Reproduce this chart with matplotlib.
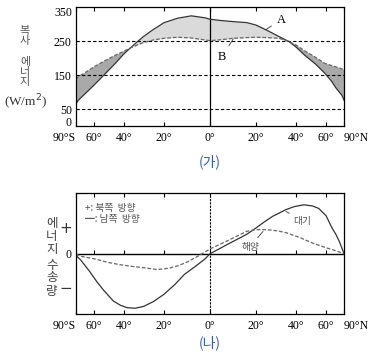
import numpy as np
import matplotlib
matplotlib.use('Agg')
import matplotlib.pyplot as plt

plt.rcParams['font.family'] = ['Liberation Serif', 'Noto Sans CJK KR', 'DejaVu Sans']
KR = ['Noto Sans CJK KR', 'DejaVu Sans']

# (가) radiation energy, W/m^2
lat_rad = [-90, -80, -70, -60, -53, -45, -40, -36.6, -33, -30, -25, -20, -14, -8, -2, 0,
           5, 10, 16, 20, 25, 31, 36.2, 40, 45, 52, 59, 65, 70, 80, 90]
absorbed = [65, 75, 92, 120, 147, 184, 212, 229, 247, 262, 284, 304, 317, 324, 318, 314,
            310, 307, 304, 297, 282, 263, 248, 232, 208, 182, 155, 132, 112, 90, 76]      # A
emitted = [138, 145, 155, 174, 189, 208, 220, 229, 238, 245, 253, 258, 261, 259, 253, 251,
           254, 258, 260, 261, 260, 258, 248, 238, 221, 202, 184, 178, 174, 168, 165]     # B

# (나) energy transport (arbitrary units, + northward)
lat_atm = [-90, -82, -75, -64, -58, -53, -46.2, -42, -38.4, -34, -29.7, -25, -20.1, -15, -11,
           -6, -2.3, 0, 7.2, 15.8, 20.2, 24, 27.9, 34.5, 39, 44.5, 50, 54.2, 60, 65.5, 70, 75,
           82, 90]
atmos = [0, -0.05, -0.1, -0.29, -0.45, -0.59, -0.78, -0.85, -0.89, -0.9, -0.87, -0.79, -0.67,
         -0.5, -0.34, -0.2, -0.09, 0.0, 0.15, 0.32, 0.43, 0.53, 0.62, 0.73, 0.78, 0.81, 0.79,
         0.75, 0.63, 0.43, 0.32, 0.2, 0.06, 0]
lat_oce = [-90, -75, -58, -50, -42.2, -35, -29.7, -23.2, -18, -14, -10, -5.2, 0, 7.2, 12,
           15.8, 20, 24.8, 30, 34.5, 42, 49.7, 60, 70, 90]
ocean = [0, -0.04, -0.09, -0.14, -0.18, -0.21, -0.23, -0.26, -0.24, -0.2, -0.14, -0.04, 0.08,
         0.21, 0.3, 0.37, 0.40, 0.40, 0.38, 0.35, 0.27, 0.18, 0.1, 0.05, 0]

lat_ticks = [-90, -60, -40, -20, 0, 20, 40, 60, 90]
lat_labels = ['90°S', '60°', '40°', '20°', '0°', '20°', '40°', '60°', '90°N']


def fwd(x):
    return np.sin(np.radians(np.clip(x, -90, 90)))


def inv(s):
    return np.degrees(np.arcsin(np.clip(s, -1, 1)))


def style_lat_axis(ax):
    ax.set_xscale('function', functions=(fwd, inv))
    ax.set_xlim(-90, 90)
    ax.set_xticks(lat_ticks)
    ax.set_xticklabels(lat_labels)
    labs = ax.get_xticklabels()
    labs[0].set_ha('right')
    labs[-1].set_ha('left')
    ax.tick_params(axis='x', direction='in', top=True, length=3, width=0.8,
                   pad=4, labelsize=8.5)
    ax.tick_params(axis='y', length=0, pad=3, labelsize=8.5)
    for sp in ax.spines.values():
        sp.set_linewidth(0.9)


fig = plt.figure(figsize=(3.79, 3.52), dpi=100)
W, H = 379, 352

# ---- (가)
ax1 = fig.add_axes([76 / W, 1 - 126 / H, 268 / W, 119 / H])
style_lat_axis(ax1)
a = np.array(absorbed)
b = np.array(emitted)
ax1.fill_between(lat_rad, a, b, where=a >= b, interpolate=True, color='#dadada', lw=0)
ax1.fill_between(lat_rad, a, b, where=a < b, interpolate=True, color='#a9a9a9', lw=0)
for yv in [50, 150, 250]:
    ax1.axhline(yv, color='k', lw=0.8, ls=(0, (3, 2)))
ax1.axvline(0, color='k', lw=0.9)
ax1.plot(lat_rad, absorbed, color='#333333', lw=0.9)
ax1.plot(lat_rad, emitted, color='#666666', lw=0.9, ls=(0, (3, 1.5)))
ax1.set_ylim(0, 350)
ax1.set_yticks([0, 50, 150, 250, 350])
ylabs = ax1.get_yticklabels()
ylabs[0].set_va('baseline')
ylabs[-1].set_va('top')

ax1.annotate('A', xy=(24.8, 284), xytext=(32, 313), ha='center', va='center',
             fontsize=9, arrowprops=dict(arrowstyle='-', lw=0.6, color='#333333',
                                         shrinkA=2, shrinkB=0))
ax1.annotate('B', xy=(10, 256), xytext=(5, 203), ha='center', va='center',
             fontsize=9, arrowprops=dict(arrowstyle='-', lw=0.6, color='#333333',
                                         shrinkA=2, shrinkB=0))

fig.text(25 / W, 1 - 36 / H, '복\n사', family=KR, fontsize=8, color='#555555',
         ha='center', va='center', linespacing=1.05)
fig.text(25 / W, 1 - 72.5 / H, '에\n너\n지', family=KR, fontsize=8, color='#555555',
         ha='center', va='center', linespacing=1.0)
fig.text(26 / W, 1 - 102 / H, '(W/m$^2$)', fontsize=9.5, color='#333333',
         ha='center', va='center')
fig.text(210 / W, 1 - 162 / H, '(가)', family=KR, fontsize=10, color='#3b5ba5',
         ha='center', va='center')

# ---- (나)
ax2 = fig.add_axes([76 / W, 1 - 314.3 / H, 268 / W, 121 / H])
style_lat_axis(ax2)
ax2.axhline(0, color='k', lw=1.0)
ax2.axvline(0, color='k', lw=0.8, ls=(0, (2, 1)))
ax2.plot(lat_ticks[1:-1], np.zeros(len(lat_ticks) - 2), ls='none', marker=2,
         ms=3, mew=0.8, color='k')
ax2.plot(lat_atm, atmos, color='#333333', lw=0.9)
ax2.plot(lat_oce, ocean, color='#666666', lw=0.9, ls=(0, (3, 1.5)))
ax2.set_ylim(-1, 1)
ax2.set_yticks([0.45, 0, -0.545])
ax2.set_yticklabels(['+', '0', '−'])
yl = ax2.get_yticklabels()
for t in (yl[0], yl[2]):
    t.set_family(['DejaVu Sans'])
    t.set_fontsize(11)
    t.set_color('#333333')

ax2.annotate('대기', xy=(34.5, 0.70), xytext=(43.5, 0.55), ha='center', va='center',
             family=KR, fontsize=7, color='#555555',
             arrowprops=dict(arrowstyle='-', lw=0.6, color='#333333', shrinkA=1, shrinkB=0))
ax2.annotate('해양', xy=(23.3, 0.37), xytext=(17.5, 0.12), ha='center', va='center',
             family=KR, fontsize=7, color='#555555',
             arrowprops=dict(arrowstyle='-', lw=0.6, color='#333333', shrinkA=1, shrinkB=0))

ax2.text(0.035, 0.88, '+: 북쪽  방향', transform=ax2.transAxes, family=KR,
         fontsize=7, color='#555555', ha='left', va='center')
ax2.text(0.035, 0.79, '━: 남쪽  방향', transform=ax2.transAxes, family=KR,
         fontsize=7, color='#555555', ha='left', va='center')

fig.text(51.7 / W, 1 - 236.5 / H, '에\n너\n지', family=KR, fontsize=9, color='#444444',
         ha='center', va='center', linespacing=1.0)
fig.text(51.7 / W, 1 - 278 / H, '수\n송\n량', family=KR, fontsize=9, color='#444444',
         ha='center', va='center', linespacing=1.0)
fig.text(210 / W, 1 - 343 / H, '(나)', family=KR, fontsize=10, color='#3b5ba5',
         ha='center', va='center')

fig.savefig('out.png', dpi=100)
